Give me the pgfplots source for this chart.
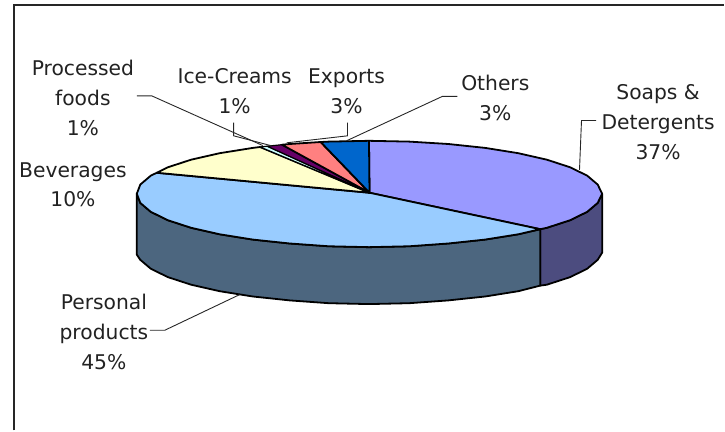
\documentclass[border=0pt]{standalone}
\usepackage{fontspec}
\setmainfont{DejaVu Sans}
\usepackage{pgfplots}
\pgfplotsset{compat=1.18}
\definecolor{soaps}{HTML}{9999FF}
\definecolor{soapswall}{HTML}{4C4C7F}
\definecolor{personal}{HTML}{99CCFF}
\definecolor{personalwall}{HTML}{4C667F}
\definecolor{beverages}{HTML}{FFFFCC}
\definecolor{processed}{HTML}{CCFFFF}
\definecolor{icecream}{HTML}{660066}
\definecolor{exports}{HTML}{FF8080}
\definecolor{others}{HTML}{0066CC}
\definecolor{textgrey}{HTML}{222222}
\tikzset{
  slice/.style={draw=black, line width=1.8pt, line join=round},
  leader/.style={draw=black!85, line width=0.9pt, sharp plot},
  lbl/.style={font=\fontsize{20.3}{30}\selectfont, text=textgrey, align=center, inner sep=0pt},
}
\begin{document}
\begin{tikzpicture}
\begin{axis}[
  scale only axis, width=725pt, height=431pt,
  xmin=0, xmax=725, ymin=0, ymax=431, y dir=reverse,
  hide axis, clip=false, no markers,
  every axis plot/.append style={forget plot},
]
% keep the whole canvas in the picture's bounding box
\path (axis cs:0,0) rectangle (axis cs:725,431);

% chart frame: open on the right and at the bottom
\addplot[draw=black!85, line width=2pt] coordinates {(14.5,431) (14.5,5.5) (725,5.5)};

% outer walls of the disc
\addplot[slice, fill=soapswall] coordinates {
  (603,194) (598.5,203.2) (588,212.1) (570.9,220.5) (547.6,228.1) (541,229.5)
  (541,286) (547.6,285.1) (570.9,277.5) (588,269.1) (598.5,260.2) (603,253)} --cycle;
\addplot[slice, fill=personalwall] coordinates {
  (541,229.5) (519,234.6) (485.8,239.9) (449,243.8) (409.9,246.6) (369.5,247.5)
  (329.1,246.6) (290,243.8) (253.2,239.9) (220,234.6) (191.4,228.1) (168.1,220.5)
  (151,212.1) (140.5,203.2) (137,194)
  (137,255) (140.5,260.2) (151,269.1) (168.1,277.5) (191.4,285.1) (220,291.6)
  (253.2,296.9) (290,300.8) (329.1,303.6) (369.5,304.5) (409.9,303.6) (449,300.8)
  (485.8,296.9) (519,291.6) (541,286)} --cycle;

% top faces of the slices
\addplot[slice, fill=soaps] coordinates {
  (370,193) (369.5,141) (409.9,141.8) (449,144.2) (485.8,148.1) (519,153.4)
  (547.6,159.9) (570.9,167.5) (588,175.9) (598.5,184.8) (603,194) (598.5,203.2)
  (588,212.1) (570.9,220.5) (547.6,228.1) (541,229.5)} --cycle;
\addplot[slice, fill=personal] coordinates {
  (370,193) (541,229.5) (519,234.6) (485.8,239.9) (449,243.8) (409.9,246.6)
  (369.5,247.5) (329.1,246.6) (290,243.8) (253.2,239.9) (220,234.6) (191.4,228.1)
  (168.1,220.5) (151,212.1) (140.5,203.2) (137,194) (140.5,184.8) (151,175.9)
  (157,173)} --cycle;
\addplot[slice, fill=beverages] coordinates {
  (370,193) (157,173) (168.1,167.5) (191.4,159.9) (220,153.4) (253.2,148.1) (260.4,147.2)} --cycle;
\addplot[slice, line width=1.2pt, fill=processed] coordinates {
  (370,193) (260.4,147.2) (267.6,146.4)} --cycle;
\addplot[slice, line width=1.2pt, fill=icecream] coordinates {
  (370,193) (267.6,146.4) (282.3,144.9)} --cycle;
\addplot[slice, fill=exports] coordinates {
  (370,193) (282.3,144.9) (290,144.2) (321.1,142.2)} --cycle;
\addplot[slice, fill=others] coordinates {
  (370,193) (321.1,142.2) (329.1,141.8) (369.5,141)} --cycle;

% leader lines from the labels to the slices
\addplot[leader] coordinates {(137,96) (152,96) (263,145.7)};
\addplot[leader] coordinates {(234,122.7) (234,136) (272,146)};
\addplot[leader] coordinates {(348,122.7) (348,136) (287,143)};
\addplot[leader] coordinates {(458,96.5) (443,96.5) (347,141)};
\addplot[leader] coordinates {(597,120.7) (582.3,120.7) (580.3,170)};
\addplot[leader] coordinates {(150,330.7) (165,330.7) (240,295)};

% labels
\node[lbl] at (axis cs:83,98)  {Processed\\foods\\1\%};
\node[lbl] at (axis cs:235,91) {Ice-Creams\\1\%};
\node[lbl] at (axis cs:347,91) {Exports\\3\%};
\node[lbl] at (axis cs:496,98) {Others\\3\%};
\node[lbl] at (axis cs:659,122){Soaps \&\\Detergents\\37\%};
\node[lbl] at (axis cs:73,185) {Beverages\\10\%};
\node[lbl] at (axis cs:104,332){Personal\\products\\45\%};
\end{axis}
\end{tikzpicture}
\end{document}
